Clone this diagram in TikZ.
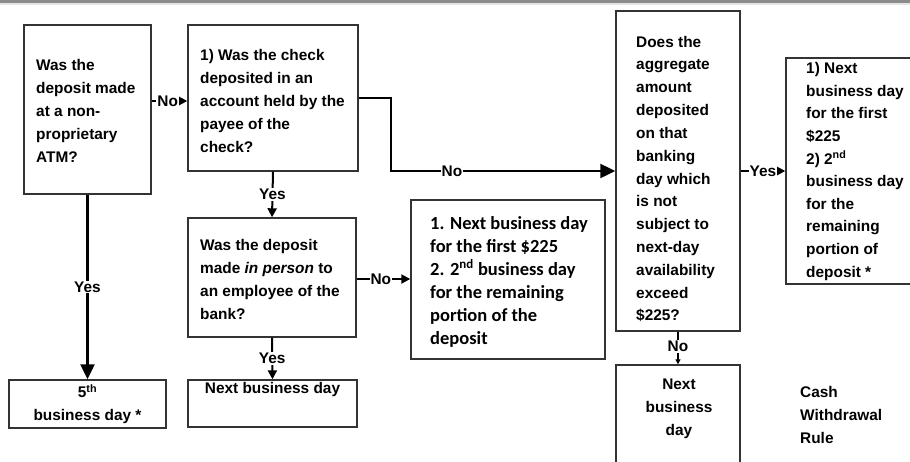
\documentclass[tikz,border=0pt]{standalone}
\usepackage{fontspec}
\setmainfont{Liberation Sans}
\newfontfamily\calib{Carlito}
\usetikzlibrary{arrows.meta}
\begin{document}
\begin{tikzpicture}[x=1pt,y=-1pt,
  box/.style={draw=black!80,line width=1.4pt,inner sep=0pt},
  txt/.style={inner sep=0pt,align=left,anchor=west,font=\fontsize{15.4}{23}\selectfont\bfseries},
  ctxt/.style={inner sep=0pt,align=center,font=\fontsize{15.4}{23}\selectfont\bfseries},
  lab/.style={fill=white,inner sep=1pt,font=\fontsize{15.4}{18}\selectfont\bfseries},
  conn/.style={line width=2pt,-{Triangle[length=9pt,width=9pt]}},
  bigconn/.style={line width=2.2pt,-{Triangle[length=15pt,width=14pt]}},
  smallconn/.style={line width=2pt,-{Triangle[length=5pt,width=5pt]}}]
\useasboundingbox (0,0) rectangle (910,461);
\fill[black!45] (0,0) rectangle (910,2.5);
\fill[black!10] (0,2.5) rectangle (910,5);
% boxes
\node[box,minimum width=127pt,minimum height=169pt] (a) at (87.5,109.5) {};
\node[box,minimum width=170pt,minimum height=146pt] (b) at (273,98) {};
\node[box,minimum width=168pt,minimum height=119pt] (c) at (272,277.5) {};
\node[box,minimum width=157pt,minimum height=48pt] (d) at (87.5,404) {};
\node[box,minimum width=169pt,minimum height=47pt] (e) at (272.5,403.5) {};
\node[box,minimum width=194pt,minimum height=159pt] (f) at (508,279.5) {};
\node[box,minimum width=124pt,minimum height=320pt] (g) at (678,171) {};
\node[box,minimum width=144pt,minimum height=226pt] (h) at (858,171) {};
\node[box,minimum width=124pt,minimum height=110pt] (i) at (678,420) {};
% texts
\node[txt] (ta) at (36,111) {Was the\\deposit made\\at a non-\\proprietary\\ATM?};
\node[txt] (tb) at (200,100.5) {1) Was the check\\deposited in an\\account held by the\\payee of the\\check?};
\node[txt] (tc) at (200,279.5) {Was the deposit\\made \textit{in person} to\\an employee of the\\bank?};
\node[ctxt] (td) at (87.5,404) {5\textsuperscript{th}\\business day *};
\node[ctxt] (te) at (272.5,390) {Next business day};
\node[txt,font=\fontsize{18.5}{23}\selectfont\calib\bfseries] (tf) at (430,281.5) {1. Next business day\\for the first \$225\\2. 2\textsuperscript{nd} business day\\for the remaining\\portion of the\\deposit};
\node[txt,font=\fontsize{15.4}{22.83}\selectfont\bfseries] (tg) at (636,179) {Does the\\aggregate\\amount\\deposited\\on that\\banking\\day which\\is not\\subject to\\next-day\\availability\\exceed\\\$225?};
\node[txt,font=\fontsize{15.4}{22.6}\selectfont\bfseries] (th) at (806,171.5) {1) Next\\business day\\for the first\\\$225\\2) 2\textsuperscript{nd}\\business day\\for the\\remaining\\portion of\\deposit *};
\node[ctxt] (ti) at (679,409) {Next\\business\\day};
\node[txt] (tcash) at (800,415) {Cash\\Withdrawal\\Rule};
% connectors
\draw[conn] (a.east |- 0,101) -- (b.west |- 0,101) node[lab,pos=0.45]{No};
\draw[bigconn] (b.east) -- ++(32,0) |- (g.west);
\node[lab] at (452,171) {No};
\draw[conn] (b.south) -- (c.north) node[lab,pos=0.5]{Yes};
\draw[bigconn] (a.south) -- (d.north) node[lab,pos=0.5]{Yes};
\draw[conn] (c.east |- 0,279) -- (f.west |- 0,279) node[lab,pos=0.45]{No};
\draw[conn] (c.south) -- (e.north) node[lab,pos=0.5]{Yes};
\draw[conn] (g.east) -- (h.west) node[lab,pos=0.5]{Yes};
\draw[smallconn] (g.south) -- (i.north) node[lab,pos=0.45]{No};
\end{tikzpicture}
\end{document}
